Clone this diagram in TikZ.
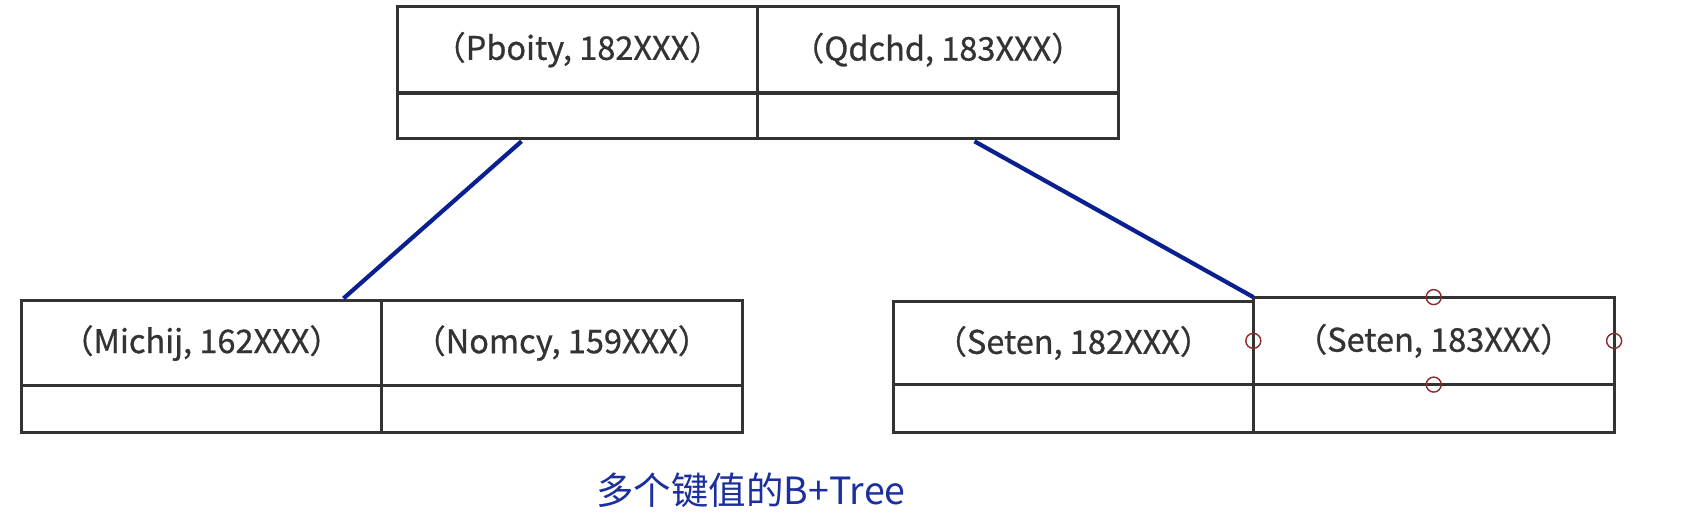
\documentclass[tikz,border=0pt]{standalone}
\usepackage{fontspec}
\setmainfont{Noto Sans CJK SC}
\newfontfamily\cjk[FakeBold=0.8]{Noto Sans CJK SC}
\newfontfamily\cjkcap{Noto Sans CJK SC}
\definecolor{boxline}{HTML}{333333}
\definecolor{linkblue}{HTML}{0A2090}
\definecolor{captionblue}{HTML}{1C2F9E}
\definecolor{handlered}{HTML}{8B2A2A}
\begin{document}
\begin{tikzpicture}[x=1pt,y=-1pt,
  cell/.style={draw=boxline, line width=3.2pt, inner sep=0pt, outer sep=0pt,
    rectangle, text=boxline, font=\fontsize{32.5}{36}\selectfont\cjk},
  link/.style={draw=linkblue, line width=4.2pt},
  handle/.style={draw=handlered, line width=1.4pt, circle, minimum size=15pt, inner sep=0pt}]
\useasboundingbox (0,0) rectangle (1694,514);
% top node
\node[cell, minimum width=359.8pt, minimum height=86.4pt] (tk1) at (577.5,49.7) {（Pboity, 182XXX）};
\node[cell, minimum width=360.8pt, minimum height=86.4pt] (tk2) at (937.8,49.7) {（Qdchd, 183XXX）};
\node[cell, minimum width=359.8pt, minimum height=45.4pt] (tp1) at (577.5,115.6) {};
\node[cell, minimum width=360.8pt, minimum height=45.4pt] (tp2) at (937.8,115.6) {};
% left child
\node[cell, minimum width=359.8pt, minimum height=85.3pt] (lk1) at (201.5,343.05) {（Michij, 162XXX）};
\node[cell, minimum width=360.8pt, minimum height=85.3pt] (lk2) at (561.8,343.05) {（Nomcy, 159XXX）};
\node[cell, minimum width=359.8pt, minimum height=46.5pt] (lp1) at (201.5,408.95) {};
\node[cell, minimum width=360.8pt, minimum height=46.5pt] (lp2) at (561.8,408.95) {};
% right child
\node[cell, minimum width=359.8pt, minimum height=83.2pt] (rk1) at (1073.4,343) {（Seten, 182XXX）};
\node[cell, minimum width=360.8pt, minimum height=87.5pt] (rk2) at (1433.7,340.85) {（Seten, 183XXX）};
\node[cell, minimum width=359.8pt, minimum height=47.6pt] (rp1) at (1073.4,408.4) {};
\node[cell, minimum width=360.8pt, minimum height=47.6pt] (rp2) at (1433.7,408.4) {};
% selection handles
\node[handle] (h1) at (rk2.west) {};
\node[handle] (h2) at (rk2.east) {};
\node[handle] (h3) at (rk2.north) {};
\node[handle] (h4) at (rk2.south) {};
% links
\coordinate (l1s) at ([xshift=-56pt,yshift=-3pt]tp1.south);
\coordinate (l1e) at ([xshift=142pt,yshift=2pt]lk1.north);
\coordinate (l2s) at ([xshift=36.7pt,yshift=-3pt]tp2.south);
\draw[link] (l1s) -- (l1e);
\draw[link] (l2s) -- (rk2.north west);
% caption
\node[text=captionblue, font=\fontsize{37.5}{40}\selectfont\cjkcap, inner sep=0pt] (cap) at (751,490) {多个键值的B+Tree};
\end{tikzpicture}
\end{document}
